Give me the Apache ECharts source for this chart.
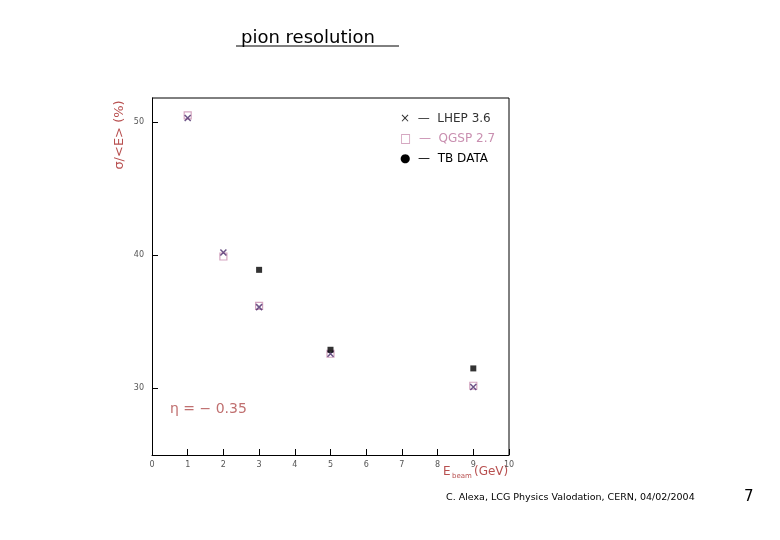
<!DOCTYPE html>
<html>
<head>
<meta charset="utf-8">
<script src="https://cdn.jsdelivr.net/npm/echarts@6/dist/echarts.min.js"></script>
<style>html,body{margin:0;background:#fff}#c{width:780px;height:540px}</style>
</head>
<body>
<div id="c"></div>
<script>
// 数据
var energies = [1, 2, 3, 5, 9];
var hepValues = [50.3, 40.2, 36.1, 32.6, 30.1];
var qgspValues = [50.5, 39.9, 36.2, 32.6, 30.2];
var tbEnergies = [3, 5, 9];
var tbValues = [38.9, 32.9, 31.5];
var xTicks = [0, 1, 2, 3, 4, 5, 6, 7, 8, 9, 10];
var yTicks = [30, 40, 50];

function pairs(xs, ys) {
    return xs.map(function (x, i) { return [x, ys[i]]; });
}

var chart = echarts.init(document.getElementById('c'));
var textFont = 'DejaVu Sans';
var option = {
    animation: false,
    grid: { left: 152, right: 271, top: 98, bottom: 85 },
    title: {
        text: 'pion resolution', left: 236, top: 24,
        textStyle: { fontFamily: textFont, fontWeight: 'normal', fontSize: 18, color: '#000' }
    },
    xAxis: {
        type: 'value', min: 0, max: 10, interval: 1,
        axisLine: { lineStyle: { color: '#000' } },
        axisTick: { inside: true, length: 6, lineStyle: { color: '#000' } },
        splitLine: { show: false },
        axisLabel: { fontSize: 8, color: '#555', fontFamily: textFont, margin: 6,
            formatter: function (v) { return xTicks.indexOf(v) >= 0 ? String(v) : ''; } }
    },
    yAxis: {
        type: 'value', min: 25, max: 51.8,
        axisLine: { lineStyle: { color: '#000' } },
        axisTick: { inside: true, length: 6, customValues: yTicks, lineStyle: { color: '#000' } },
        splitLine: { show: false },
        axisLabel: { fontSize: 8, color: '#555', fontFamily: textFont, customValues: yTicks }
    },
    series: [{
        name: 'HEP', type: 'scatter', symbol: 'path://M0,0L10,10M10,0L0,10', symbolSize: 6,
        itemStyle: { color: 'none', borderColor: '#4a2a6a', borderWidth: 1.5 },
        data: pairs(energies, hepValues), z: 3
    }, {
        name: 'QGSP', type: 'scatter', symbol: 'rect', symbolSize: 7,
        itemStyle: { color: 'transparent', borderColor: '#c98fb0', borderWidth: 1.2 },
        data: pairs(energies, qgspValues), z: 2
    }, {
        name: 'TB', type: 'scatter', symbol: 'rect', symbolSize: 6,
        itemStyle: { color: '#000' },
        data: pairs(tbEnergies, tbValues), z: 4
    }],
    graphic: [
        { type: 'line', shape: { x1: 152, y1: 98, x2: 509, y2: 98 }, style: { stroke: '#000' } },
        { type: 'line', shape: { x1: 509, y1: 98, x2: 509, y2: 455 }, style: { stroke: '#000' } },
        { type: 'text', x: 120, y: 135, rotation: Math.PI / 2, style: { text: 'σ/<E> (%)', fill: '#b85050', font: '13px DejaVu Sans', align: 'center', verticalAlign: 'middle' } },
        { type: 'text', x: 443, y: 466, style: { text: 'E', fill: '#b85050', font: '12px DejaVu Sans' } },
        { type: 'text', x: 452, y: 473, style: { text: 'beam', fill: '#b85050', font: '7px DejaVu Sans' } },
        { type: 'text', x: 474, y: 466, style: { text: '(GeV)', fill: '#b85050', font: '12px DejaVu Sans' } },
        { type: 'text', x: 400, y: 113, style: { text: '×  —  LHEP 3.6', fill: '#333', font: '12px DejaVu Sans' } },
        { type: 'text', x: 400, y: 133, style: { text: '□  —  QGSP 2.7', fill: '#c98fb0', font: '12px DejaVu Sans' } },
        { type: 'text', x: 400, y: 153, style: { text: '●  —  TB DATA', fill: '#000', font: '12px DejaVu Sans' } },
        { type: 'text', x: 170, y: 402, style: { text: 'η = − 0.35', fill: '#c07070', font: '14px DejaVu Sans' } },
        { type: 'text', x: 446, y: 493, style: { text: 'C. Alexa, LCG Physics Valodation, CERN, 04/02/2004', fill: '#000', font: '9.5px DejaVu Sans' } },
        { type: 'text', x: 744, y: 490, style: { text: '7', fill: '#000', font: '15px DejaVu Sans' } },
        { type: 'line', shape: { x1: 236, y1: 46, x2: 399, y2: 46 }, style: { stroke: '#000', lineWidth: 1 } }
    ]
};
chart.setOption(option);
</script>
</body>
</html>
